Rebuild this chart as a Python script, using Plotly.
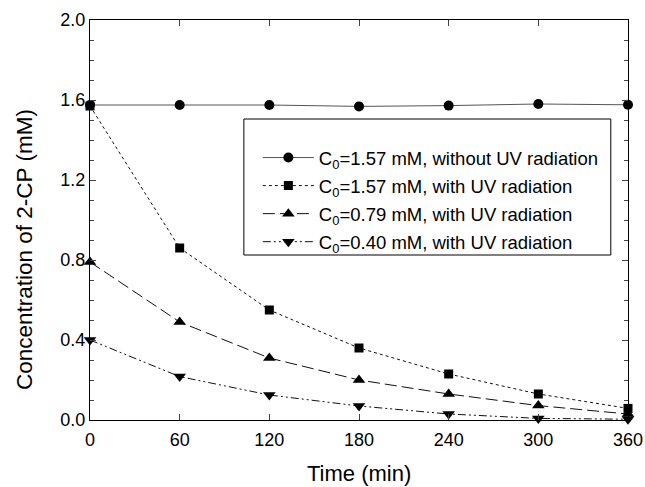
import plotly.graph_objects as go

time_min = [0, 60, 120, 180, 240, 300, 360]
c157_dark = [1.575, 1.575, 1.575, 1.568, 1.572, 1.580, 1.576]
c157_uv = [1.57, 0.86, 0.55, 0.36, 0.23, 0.13, 0.058]
c079_uv = [0.79, 0.49, 0.31, 0.20, 0.13, 0.072, 0.03]
c040_uv = [0.40, 0.217, 0.125, 0.07, 0.03, 0.008, 0.004]

names = [
    "C<sub>0</sub>=1.57 mM, without UV radiation",
    "C<sub>0</sub>=1.57 mM, with UV radiation",
    "C<sub>0</sub>=0.79 mM, with UV radiation",
    "C<sub>0</sub>=0.40 mM, with UV radiation",
]
series = [c157_dark, c157_uv, c079_uv, c040_uv]
symbols = ["circle", "square", "triangle-up", "triangle-down"]
dashes = ["solid", "dot", "12px,5px", "8px,3px,2px,3px,2px,3px"]
lcolors = ["#555555", "#111111", "#111111", "#111111"]
msizes = [10, 9, 11, 11]

fig = go.Figure()
for i, (nm, ys, sym, ds, lc, ms) in enumerate(zip(names, series, symbols, dashes, lcolors, msizes)):
    fig.add_trace(go.Scatter(
        x=time_min, y=ys, name=nm, mode="lines+markers",
        line=dict(color=lc, width=1, dash=ds),
        marker=dict(symbol=sym, size=ms, color="black"),
        legendgroup=f"g{i}", cliponaxis=False,
    ))

font = "Liberation Sans, Arial, sans-serif"
fig.update_layout(
    width=645, height=487,
    margin=dict(l=90, r=17, t=20, b=67),
    plot_bgcolor="white", paper_bgcolor="white",
    font=dict(family=font, size=18, color="black"),
    showlegend=True,
    legend=dict(
        x=0.312, y=0.7025, xanchor="left", yanchor="top",
        bgcolor="rgba(0,0,0,0)", borderwidth=0,
        font=dict(family=font, size=18.5, color="black"),
        traceorder="grouped", tracegroupgap=1, itemwidth=51,
    ),
    shapes=[dict(type="rect", xref="paper", yref="paper",
                 x0=0.286, x1=0.968, y0=0.4125, y1=0.7525,
                 line=dict(color="black", width=1), fillcolor="white", layer="below")],
    annotations=[
        dict(text="Concentration of 2-CP (mM)", xref="paper", yref="paper",
             x=(25 - 90) / 538, y=0.425, xanchor="center", yanchor="middle",
             textangle=-90, showarrow=False, font=dict(size=22.5)),
        dict(text="Time (min)", xref="paper", yref="paper",
             x=0.5, y=-0.1325, xanchor="center", yanchor="middle",
             showarrow=False, font=dict(size=22), borderpad=0),
    ],
)
fig.update_xaxes(
    range=[0, 360], tickvals=time_min, ticks="inside", ticklen=6,
    showline=True, linecolor="black", linewidth=1, mirror="ticks",
    showgrid=False, zeroline=False, tickfont=dict(size=18), ticklabelstandoff=3,
    automargin=False,
)
fig.update_yaxes(
    range=[0, 2.0], tick0=0, dtick=0.4, tickformat=".1f", ticks="inside", ticklen=6,
    minor=dict(dtick=0.1, ticks="inside", ticklen=4, showgrid=False),
    showline=True, linecolor="black", linewidth=1, mirror="ticks",
    showgrid=False, zeroline=False, tickfont=dict(size=18), automargin=False,
)
fig.write_html("out.html")
